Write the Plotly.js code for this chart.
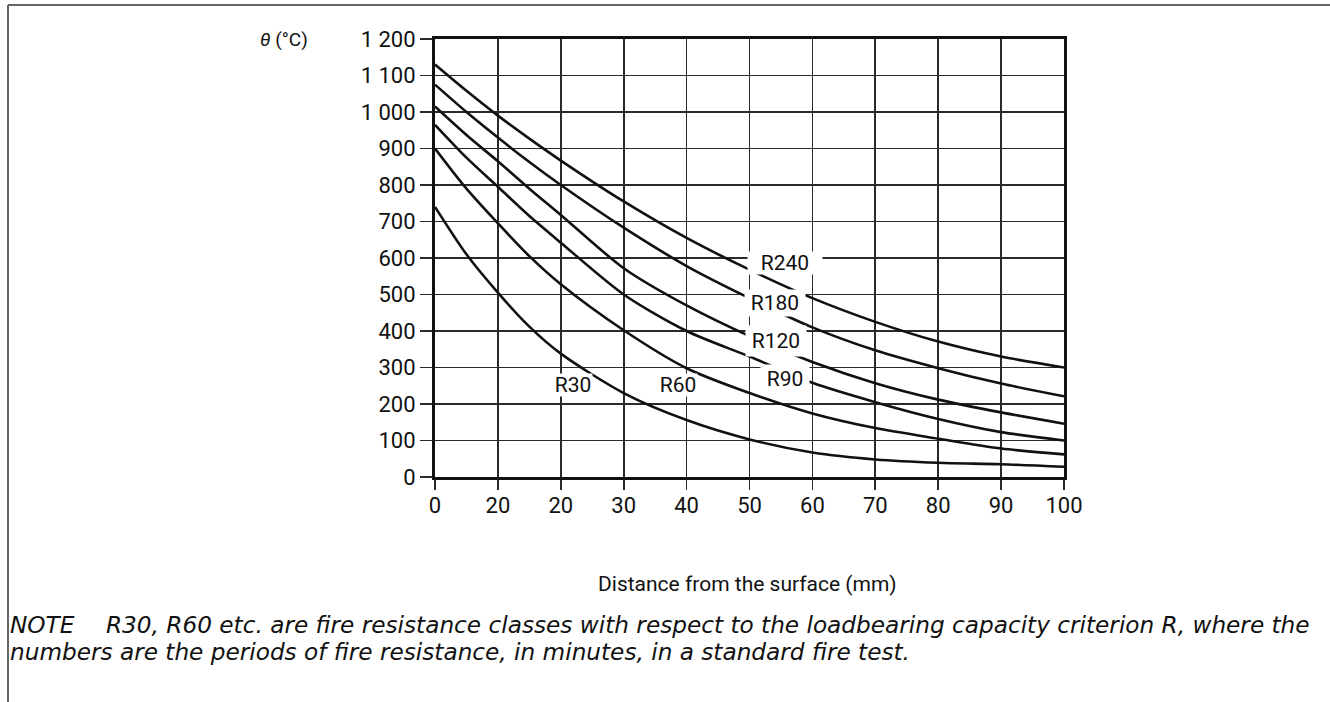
<!DOCTYPE html>
<html>
<head>
<meta charset="utf-8">
<script src="https://cdn.plot.ly/plotly-3.0.1.min.js"></script>
<style>html,body{margin:0;padding:0;background:#fff;}#chart{width:1330px;height:702px;}</style>
</head>
<body>
<div id="chart"></div>
<script>
// Distance from the surface (mm)
const distance = [0, 5, 10, 15, 20, 30, 40, 50, 60, 70, 80, 90, 100];
// Temperature θ (°C) per fire resistance class
const r30  = [740, 610, 505, 412, 338, 230, 156, 103, 67, 48, 39, 35, 28];
const r60  = [900, 790, 695, 605, 528, 402, 298, 230, 174, 134, 105, 78, 62];
const r90  = [965, 875, 795, 715, 642, 500, 400, 330, 258, 205, 159, 123, 100];
const r120 = [1015, 937, 865, 790, 718, 572, 470, 386, 315, 257, 212, 177, 146];
const r180 = [1075, 1000, 930, 863, 800, 683, 578, 490, 410, 347, 298, 256, 221];
const r240 = [1130, 1058, 990, 927, 867, 755, 655, 568, 490, 425, 371, 330, 300];
const seriesNames = ["R30", "R60", "R90", "R120", "R180", "R240"];
const seriesValues = [r30, r60, r90, r120, r180, r240];

const xTickVals = [0, 10, 20, 30, 40, 50, 60, 70, 80, 90, 100];
const xTickText = ["0", "20", "20", "30", "40", "50", "60", "70", "80", "90", "100"];
const yTickVals = [0, 100, 200, 300, 400, 500, 600, 700, 800, 900, 1000, 1100, 1200];
const yTickText = ["0", "100", "200", "300", "400", "500", "600", "700", "800", "900", "1 000", "1 100", "1 200"];

const noteLabel = "NOTE";
const noteLine1 = "R30, R60 etc. are fire resistance classes with respect to the loadbearing capacity criterion R, where the";
const noteLine2 = "numbers are the periods of fire resistance, in minutes, in a standard fire test.";

const traces = seriesValues.map((vals, i) => ({
  x: distance, y: vals, name: seriesNames[i], type: 'scatter', mode: 'lines',
  line: {color: '#111', width: 2.6, shape: 'spline', smoothing: 0.8},
  hoverinfo: 'x+y+name'
}));

const labelFont = {family: 'Roboto, sans-serif', size: 21, color: '#111'};
// curve label positions (x in mm, y in °C) and white boxes
const curveLabels = [
  {text: 'R240', x: 55.6, y: 586, w: 74, h: 22},
  {text: 'R180', x: 54.0, y: 477, w: 60, h: 26},
  {text: 'R120', x: 54.2, y: 373, w: 60, h: 30},
  {text: 'R90',  x: 55.6, y: 268, w: 48, h: 28},
  {text: 'R30',  x: 21.9, y: 253, w: 38, h: 22},
  {text: 'R60',  x: 38.6, y: 253, w: 38, h: 22}
];
const annotations = curveLabels.map(l => ({
  text: l.text, x: l.x, y: l.y, xref: 'x', yref: 'y', showarrow: false,
  font: labelFont, bgcolor: '#fff', width: l.w, height: l.h, borderpad: 0,
  xanchor: 'center', yanchor: 'middle'
}));

// px helpers for paper coordinates (plot area 435..1064 x, 39..477 y)
const L = 435, R = 1064, T = 39, B = 477;
const px = v => (v - L) / (R - L);
const py = v => (B - v) / (B - T);

const noteFont = {family: 'DejaVu Sans, sans-serif', size: 23.2, color: '#111'};
annotations.push(
  {text: '<i>θ</i> (°C)', xref: 'paper', yref: 'paper', x: px(258), y: py(40), xanchor: 'left', yanchor: 'middle', showarrow: false,
   font: {family: 'Roboto, sans-serif', size: 19, color: '#111'}},
  {text: 'Distance from the surface (mm)', xref: 'paper', yref: 'paper', x: px(747), y: py(584), xanchor: 'center', yanchor: 'middle', showarrow: false,
   font: {family: 'Roboto, sans-serif', size: 21, color: '#111'}},
  {text: '<i>' + noteLabel + '</i>', xref: 'paper', yref: 'paper', x: px(8), y: py(624), xanchor: 'left', yanchor: 'middle', showarrow: false,
   font: noteFont},
  {text: '<i>' + noteLine1 + '</i>', xref: 'paper', yref: 'paper', x: px(104), y: py(624), xanchor: 'left', yanchor: 'middle', showarrow: false,
   font: noteFont},
  {text: '<i>' + noteLine2 + '</i>', xref: 'paper', yref: 'paper', x: px(8), y: py(651), xanchor: 'left', yanchor: 'middle', showarrow: false,
   font: noteFont}
);

const layout = {
  width: 1330, height: 702,
  margin: {l: L, r: 1330 - R, t: T, b: 702 - B, pad: 0},
  paper_bgcolor: '#fff', plot_bgcolor: '#fff',
  showlegend: false,
  font: {family: 'Roboto, sans-serif', color: '#111'},
  xaxis: {
    range: [0, 100], tickvals: xTickVals, ticktext: xTickText,
    showgrid: true, gridcolor: '#2a2a2a', gridwidth: 1.6,
    showline: true, linecolor: '#111', linewidth: 3, mirror: true,
    ticks: 'outside', ticklen: 10, tickwidth: 1.6, tickcolor: '#2a2a2a',
    ticklabelstandoff: -3,
    tickfont: {family: 'Roboto, sans-serif', size: 22, color: '#111'},
    zeroline: false, fixedrange: true
  },
  yaxis: {
    range: [0, 1200], tickvals: yTickVals, ticktext: yTickText,
    showgrid: true, gridcolor: '#2a2a2a', gridwidth: 1.6,
    showline: true, linecolor: '#111', linewidth: 3, mirror: true,
    ticks: 'outside', ticklen: 12, tickwidth: 1.6, tickcolor: '#2a2a2a',
    tickfont: {family: 'Roboto, sans-serif', size: 22, color: '#111'},
    zeroline: false, fixedrange: true
  },
  annotations: annotations,
  shapes: [
    {type: 'line', xref: 'paper', yref: 'paper', x0: px(8), x1: px(8), y0: py(710), y1: py(5),
     line: {color: '#666', width: 2}},
    {type: 'line', xref: 'paper', yref: 'paper', x0: px(8), x1: px(1340), y0: py(5), y1: py(5),
     line: {color: '#666', width: 2}}
  ]
};

Plotly.newPlot('chart', traces, layout, {staticPlot: true});
</script>
</body>
</html>
